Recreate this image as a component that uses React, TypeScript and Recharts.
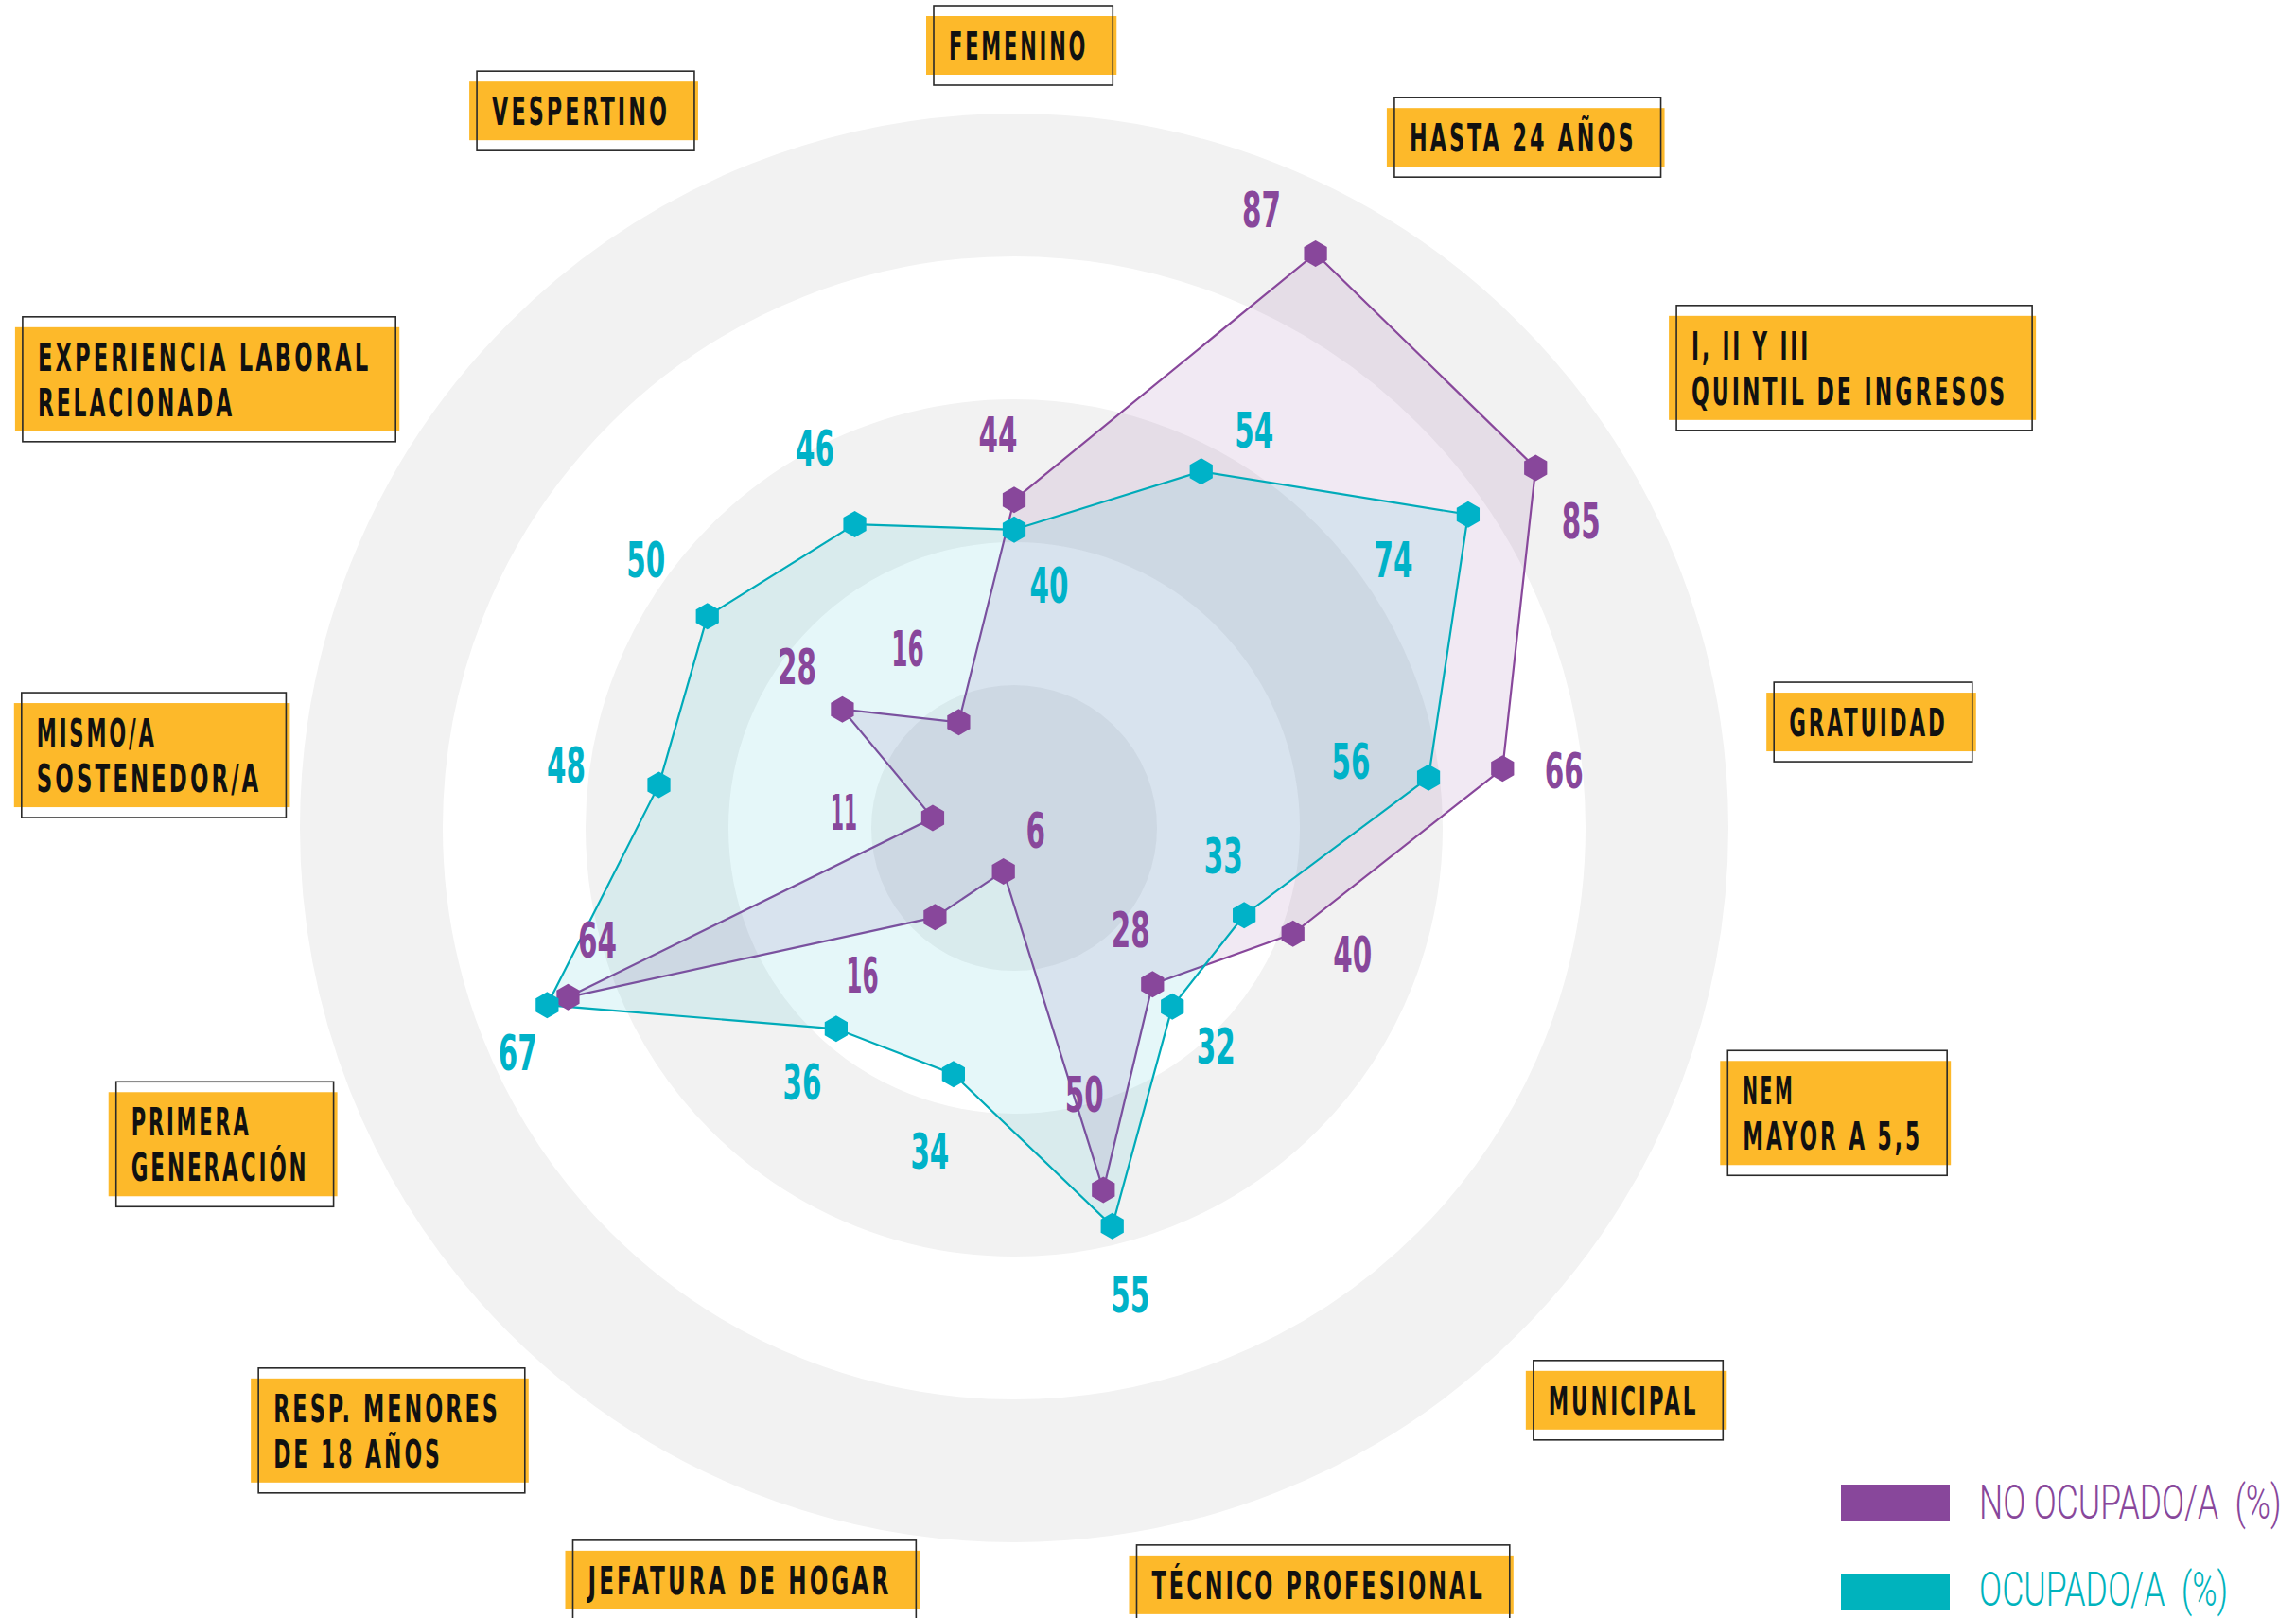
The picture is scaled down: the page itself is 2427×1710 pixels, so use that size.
import React from 'react';
import { RadarChart, Radar, PolarGrid, PolarAngleAxis, PolarRadiusAxis, Legend } from 'recharts';

// categories clockwise from the top, "\n" splits the label box into two lines
const categories = [
  'FEMENINO',
  'HASTA 24 AÑOS',
  'I, II Y III\nQUINTIL DE INGRESOS',
  'GRATUIDAD',
  'NEM\nMAYOR A 5,5',
  'MUNICIPAL',
  'TÉCNICO PROFESIONAL',
  'JEFATURA DE HOGAR',
  'RESP. MENORES\nDE 18 AÑOS',
  'PRIMERA\nGENERACIÓN',
  'MISMO/A\nSOSTENEDOR/A',
  'EXPERIENCIA LABORAL\nRELACIONADA',
  'VESPERTINO',
];
const noOcupado = [44, 87, 85, 66, 40, 28, 50, 6, 16, 64, 11, 28, 16];
const ocupado = [40, 54, 74, 56, 33, 32, 55, 34, 36, 67, 48, 50, 46];
const seriesNames = ['NO OCUPADO/A  (%)', 'OCUPADO/A  (%)'];

const PURPLE = '#88479b';
const CYAN = '#00b2c8';
const CYAN_LINE = '#00abb9';
const ORANGE = '#fdb92a';

const CX = 1072;
const CY = 875;
const OUTER = 788; // 100 on the radius axis
const BAND = 151;

// where each category box text starts, relative to the angle-axis tick point
const labelNudge = [
  [-69, -16], [48, -10], [61, -43], [29, -1], [26, 10], [37, 24], [-45, 42],
  [-260, 37], [-255, 32], [-189, 43], [-243, 10], [-377, -31], [-182, -38],
];
// value label offsets from each point
const noOcupadoLabelOffset = [
  [-17, -68], [-57, -46], [48, 56], [65, 3], [63, 22], [-23, -57], [-20, -101],
  [34, -43], [-77, 62], [31, -60], [-94, -6], [-48, -45], [-54, -77],
];
const ocupadoLabelOffset = [
  [37, 59], [56, -43], [-79, 48], [-82, -17], [-22, -62], [46, 42], [19, 73],
  [-25, 82], [-36, 57], [-31, 51], [-98, -20], [-65, -59], [-42, -80],
];

const data = categories.map((c, i) => ({
  category: c,
  noOcupado: noOcupado[i],
  ocupado: ocupado[i],
}));

const narrow = new Set(['I', ' ', ',', '.']);
const boxTextWidth = (s: string) => {
  let u = 0;
  for (const ch of s) u += narrow.has(ch) ? 0.55 : 1;
  return u * 20.3 - 6;
};
const digitsWidth = (s: string) => {
  let w = 0;
  for (const ch of s) w += ch === '1' ? 14 : 20.5;
  return w;
};

const CategoryTick = (props: any) => {
  const { x, y, payload } = props;
  const idx = categories.indexOf(payload?.value);
  if (idx < 0) return null;
  const lines = categories[idx].split('\n');
  const [nx, ny] = labelNudge[idx];
  const left = x + nx;
  const base = y + ny;
  const widths = lines.map(boxTextWidth);
  const maxW = Math.max(...widths);
  const bx = left - 24;
  const by = base - 46;
  const bw = maxW + 54;
  const bh = 62 + (lines.length - 1) * 48;
  return (
    <g>
      <rect x={bx} y={by} width={bw} height={bh} fill={ORANGE} />
      <rect x={bx + 8} y={by - 11} width={bw - 12} height={bh + 22} fill="none" stroke="#2a2a2a" strokeWidth={1.6} />
      {lines.map((line, i) => (
        <text
          key={i}
          x={left}
          y={base + i * 48}
          textLength={widths[i]}
          lengthAdjust="spacingAndGlyphs"
          fill="#111"
          fontFamily="'DejaVu Sans Condensed', 'DejaVu Sans', sans-serif"
          fontWeight={700}
          fontSize={41}
          letterSpacing={5}
        >
          {line}
        </text>
      ))}
    </g>
  );
};

const Hexagon = (color: string) => (props: any) => {
  const { cx, cy, index } = props;
  if (cx == null || cy == null) return null;
  const r = 14;
  const pts = [0, 1, 2, 3, 4, 5]
    .map((k) => {
      const a = (Math.PI / 3) * k - Math.PI / 2;
      return `${cx + r * Math.cos(a)},${cy + r * Math.sin(a)}`;
    })
    .join(' ');
  return <polygon key={`hex-${index}`} points={pts} fill={color} />;
};

const ValueLabel = (offsets: number[][], color: string) => (props: any) => {
  const { index, value } = props;
  const x = props.x ?? props.viewBox?.x ?? props.cx;
  const y = props.y ?? props.viewBox?.y ?? props.cy;
  if (x == null || y == null || index == null) return null;
  const [dx, dy] = offsets[index] || [0, 0];
  const s = String(value);
  return (
    <text
      key={`lbl-${index}`}
      x={x + dx}
      y={y + dy + 18}
      textAnchor="middle"
      textLength={digitsWidth(s)}
      lengthAdjust="spacingAndGlyphs"
      fill={color}
      fontFamily="'DejaVu Sans Condensed', 'DejaVu Sans', sans-serif"
      fontWeight={700}
      fontSize={51}
    >
      {s}
    </text>
  );
};

// legend text is squeezed horizontally to look like the condensed light face
const LEGEND_SQUEEZE = 0.6;

const LegendContent = (props: any) => {
  const items = props.payload || [];
  const colors = [PURPLE, '#00b3bd'];
  return (
    <svg width={727} height={170}>
      {items.map((it: any, i: number) => (
        <g key={i}>
          <rect x={246} y={29 + i * 94} width={115} height={39} fill={colors[i]} />
          <g transform={`translate(392, ${65 + i * 92}) scale(${LEGEND_SQUEEZE}, 1)`}>
            <text
              x={0}
              y={0}
              fill={colors[i]}
              textLength={(String(it.value).length * 18.8) / LEGEND_SQUEEZE}
              lengthAdjust="spacingAndGlyphs"
              fontFamily="Roboto, 'Open Sans', sans-serif"
              fontWeight={300}
              fontSize={50}
              style={{ whiteSpace: 'pre' }}
            >
              {it.value}
            </text>
          </g>
        </g>
      ))}
    </svg>
  );
};

const App: React.FC = () => {
  return (
    <div style={{ position: 'absolute', left: 0, top: 0, width: 2427, height: 1710, overflow: 'hidden', background: '#fff' }}>
      <RadarChart
        width={2427}
        height={1710}
        data={data}
        cx={CX}
        cy={CY}
        outerRadius={OUTER}
        margin={{ top: 0, right: 0, bottom: 0, left: 0 }}
      >
        <PolarGrid
          gridType="circle"
          radialLines={false}
          polarRadius={[5 * BAND - BAND / 2, 3 * BAND - BAND / 2, BAND / 2]}
          stroke="#f2f2f2"
          strokeWidth={BAND}
        />
        <PolarRadiusAxis domain={[0, 100]} tick={false} axisLine={false} />
        <PolarAngleAxis dataKey="category" tick={CategoryTick} axisLine={false} tickLine={false} />
        <Radar
          name={seriesNames[0]}
          dataKey="noOcupado"
          stroke={PURPLE}
          strokeWidth={2.2}
          fill={PURPLE}
          fillOpacity={0.12}
          dot={Hexagon(PURPLE)}
          label={ValueLabel(noOcupadoLabelOffset, PURPLE)}
          isAnimationActive={false}
        />
        <Radar
          name={seriesNames[1]}
          dataKey="ocupado"
          stroke={CYAN_LINE}
          strokeWidth={2.2}
          fill={CYAN}
          fillOpacity={0.1}
          dot={Hexagon(CYAN)}
          label={ValueLabel(ocupadoLabelOffset, CYAN)}
          isAnimationActive={false}
        />
        <Legend
          content={LegendContent}
          wrapperStyle={{ left: 1700, top: 1540, width: 727, height: 170 }}
        />
      </RadarChart>
    </div>
  );
};

export default App;
